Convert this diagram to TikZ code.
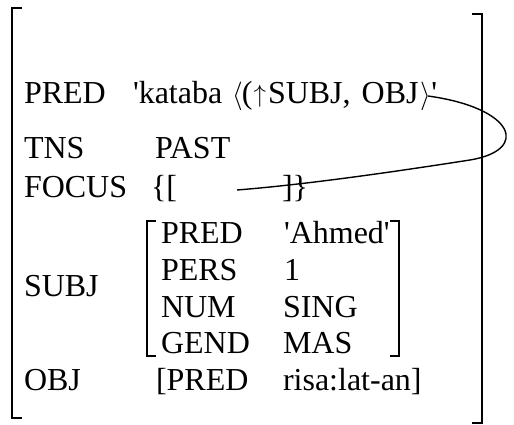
\documentclass[tikz,border=0pt]{standalone}
\usepackage{fontspec}
\setmainfont{Liberation Serif}
\newcommand\sq{\textquotesingle}
\newcommand\bigang[1]{\scalebox{1.1}[1.15]{$#1$}}
\begin{document}
\begin{tikzpicture}[x=1pt,y=-1pt,
  txt/.style={anchor=base west,inner sep=0pt,outer sep=0pt,font=\fontsize{32}{38}\selectfont},
  brk/.style={line width=2.6pt,line cap=butt,line join=miter},
  ibrk/.style={line width=2pt,line cap=butt,line join=miter},
  link/.style={line width=1.4pt}]
\useasboundingbox (0,0) rectangle (514,425);

% outer attribute-value matrix brackets
\draw[brk] (22,8) -- (12,8) -- (12,418) -- (22,418);
\draw[brk] (472,14) -- (482,14) -- (482,423) -- (472,423);

% PRED
\node[txt] (predA) at (24,104) {PRED};
\node[txt] (predV) at (133,104)
  {\sq kataba\hspace{10pt}\bigang{\langle}\hspace{-1pt}(\hspace{1pt}\raisebox{1pt}{$\uparrow$}\hspace{2pt}SUBJ,\hspace{3pt} OBJ\hspace{2pt}\bigang{\rangle}\sq};

% TNS
\node[txt] (tnsA) at (24,159) {TNS};
\node[txt] (tnsV) at (155,159) {PAST};

% FOCUS
\node[txt] (focA) at (24,197) {FOCUS};
\node[txt] (focL) at (151,197) {\{[};
\node[txt] (focR) at (282,197) {]\}};

% SUBJ with its embedded matrix
\node[txt] (subjA) at (24,296) {SUBJ};
\draw[ibrk] (156,221) -- (147,221) -- (147,356) -- (156,356);
\draw[ibrk] (390,221) -- (399,221) -- (399,356) -- (390,356);
\node[txt] (s1A) at (161,243) {PRED};
\node[txt] (s1V) at (284,243) {\sq Ahmed\sq};
\node[txt] (s2A) at (161,280) {PERS};
\node[txt] (s2V) at (284,280) {1};
\node[txt] (s3A) at (161,317) {NUM};
\node[txt] (s3V) at (283,317) {SING};
\node[txt] (s4A) at (161,353) {GEND};
\node[txt] (s4V) at (283,353) {MAS};

% OBJ
\node[txt] (objA) at (24,390) {OBJ};
\node[txt] (objL) at (156,390) {[PRED};
\node[txt] (objV) at (283,390) {risa:lat-an]};

% control link from the argument list to the FOCUS slot
\coordinate (argEnd) at (428,96);
\coordinate (focSlot) at (237,190);
\draw[link] (argEnd) .. controls (515,108) and (530,150) .. (470,160)
  .. controls (380,174) and (300,185) .. (focSlot);
\end{tikzpicture}
\end{document}
